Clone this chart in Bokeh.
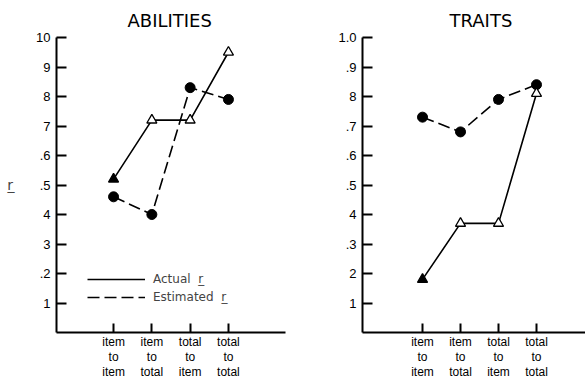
from bokeh.plotting import figure
from bokeh.layouts import row
from bokeh.models import Range1d, FixedTicker, Legend, LegendItem, Title
from bokeh.embed import file_html
from bokeh.resources import INLINE

# ---- data ----
categories = ["item\nto\nitem", "item\nto\ntotal", "total\nto\nitem", "total\nto\ntotal"]
x_pos = [1, 2, 3, 4]
abilities_actual = [0.52, 0.72, 0.72, 0.95]
abilities_estimated = [0.46, 0.40, 0.83, 0.79]
traits_actual = [0.18, 0.37, 0.37, 0.81]
traits_estimated = [0.73, 0.68, 0.79, 0.84]
y_ticks = [0.1, 0.2, 0.3, 0.4, 0.5, 0.6, 0.7, 0.8, 0.9, 1.0]
left_tick_labels = ["1", ".2", "3", "4", ".5", ".6", "7", "8", "9", "10"]
right_tick_labels = ["1", "2", ".3", "4", ".5", ".6", ".7", "8", ".9", "1.0"]
titles = ["ABILITIES", "TRAITS"]
legend_labels = ["Actual  r\u0332", "Estimated  r\u0332"]

FONT = "DejaVu Sans"
TICKFONT = "Liberation Sans"
actual_fills = ["black", "white", "white", "white"]


def panel(title, actual, estimated, tick_labels, width, border_left, border_right,
          xr, title_offset, with_legend, y_label):
    p = figure(width=width, height=382, output_backend="svg", toolbar_location=None,
               x_range=Range1d(*xr), y_range=Range1d(0, 1.0),
               min_border_left=border_left, min_border_right=border_right,
               min_border_top=37, min_border_bottom=49)
    p.title = Title(text=title, align="left", offset=title_offset,
                    text_font=FONT, text_font_size="18px",
                    text_font_style="normal", text_color="black", standoff=13)
    p.outline_line_color = None
    p.grid.visible = False
    p.background_fill_color = "white"
    p.border_fill_color = "white"

    # axes
    p.yaxis.ticker = FixedTicker(ticks=y_ticks)
    p.yaxis.major_label_overrides = {t: l for t, l in zip(y_ticks, tick_labels)}
    p.xaxis.ticker = FixedTicker(ticks=x_pos)
    p.xaxis.major_label_overrides = {x: c for x, c in zip(x_pos, categories)}
    for ax in (p.xaxis, p.yaxis):
        ax.axis_line_width = 2
        ax.axis_line_color = "black"
        ax.major_tick_line_width = 2
        ax.major_tick_line_color = "black"
        ax.minor_tick_line_color = None
        ax.major_tick_out = 0
        ax.major_label_text_color = "black"
        ax.major_label_text_font = TICKFONT
    p.yaxis.major_tick_in = 10
    p.yaxis.major_label_standoff = 6
    p.yaxis.major_label_text_font_size = "13px"
    p.xaxis.major_tick_in = 9
    p.xaxis.major_label_standoff = 2
    p.xaxis.major_label_text_font_size = "12px"
    p.xaxis.major_label_text_line_height = 1.1

    if y_label:
        p.yaxis.axis_label = "r\u0332"
        p.yaxis.axis_label_text_font = FONT
        p.yaxis.axis_label_text_font_size = "14px"
        p.yaxis.axis_label_text_font_style = "normal"
        p.yaxis.axis_label_standoff = 20
        if "axis_label_orientation" in p.yaxis[0].properties():
            p.yaxis.axis_label_orientation = "horizontal"

    # series
    la = p.line(x_pos, actual, line_color="black", line_width=1.6)
    le = p.line(x_pos, estimated, line_color="black", line_width=1.6, line_dash="12 5")
    p.scatter(x_pos, estimated, marker="circle", size=10, fill_color="black",
              line_color="black")
    p.scatter(x_pos, actual, marker="triangle", size=10, fill_color=actual_fills,
              line_color="black", line_width=1.3)

    if with_legend:
        leg = Legend(items=[LegendItem(label=legend_labels[0], renderers=[la]),
                            LegendItem(label=legend_labels[1], renderers=[le])],
                     location=(31, 28), padding=0, margin=0, spacing=4,
                     glyph_width=58, glyph_height=14, label_height=14,
                     label_standoff=8, label_text_font=FONT,
                     label_text_font_size="12px", border_line_color=None,
                     background_fill_alpha=0)
        p.add_layout(leg)
    return p


p1 = panel(titles[0], abilities_actual, abilities_estimated, left_tick_labels,
           300, 56, 15, (-0.49, 5.49), 71, True, True)
p2 = panel(titles[1], traits_actual, traits_estimated, right_tick_labels,
           285, 62, 0, (-0.58, 5.29), 87, False, False)

layout = row(p1, p2)
open("out.html", "w").write(file_html(layout, INLINE))
